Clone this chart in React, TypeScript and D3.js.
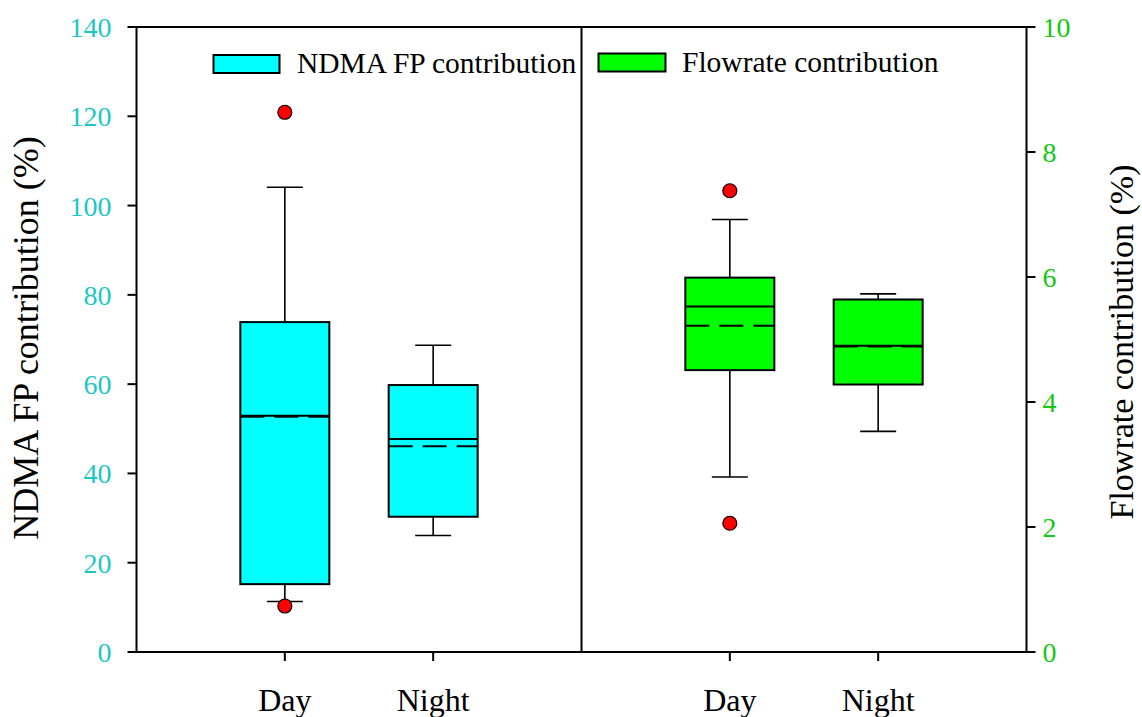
import React from "react";
import * as d3 from "d3";

// Categories on the x axis of each panel
const categories = ["Day", "Night"];

// NDMA FP contribution (%), left panel
const ndmaLowerWhisker = [11.3, 26.1];
const ndmaQ1 = [15.2, 30.3];
const ndmaMedian = [52.9, 47.7];
const ndmaMean = [52.7, 46.1];
const ndmaQ3 = [73.9, 59.8];
const ndmaUpperWhisker = [104.1, 68.7];
const ndmaOutliers = [[120.9, 10.3], []];

// Flowrate contribution (%), right panel
const flowLowerWhisker = [2.8, 3.53];
const flowQ1 = [4.51, 4.28];
const flowMedian = [5.53, 4.9];
const flowMean = [5.22, 4.89];
const flowQ3 = [5.99, 5.64];
const flowUpperWhisker = [6.92, 5.73];
const flowOutliers = [[7.38, 2.06], []];

const leftTicks = [0, 20, 40, 60, 80, 100, 120, 140];
const rightTicks = [0, 2, 4, 6, 8, 10];

const W = 1142;
const H = 717;
const left = 136.5;
const right = 1026.5;
const mid = 581.5;
const top = 27;
const bottom = 652;
const FONT = "'Liberation Serif', 'Times New Roman', serif";

type Stats = {
  lo: number[]; q1: number[]; med: number[]; mean: number[]; q3: number[]; hi: number[]; out: number[][];
};

function Panel({ x0, x1, y, stats, fill }: { x0: number; x1: number; y: d3.ScaleLinear<number, number>; stats: Stats; fill: string }) {
  const x = d3.scalePoint<string>().domain(categories).range([x0, x1]).padding(1);
  const bw = (x1 - x0) * 0.2;
  const cap = 36;
  return (
    <g>
      {categories.map((c, i) => {
        const cx = x(c)!;
        const bx = cx - bw / 2;
        return (
          <g key={c}>
            {/* whiskers */}
            <line x1={cx} x2={cx} y1={y(stats.q3[i])} y2={y(stats.hi[i])} stroke="#000" strokeWidth={1.6} />
            <line x1={cx} x2={cx} y1={y(stats.q1[i])} y2={y(stats.lo[i])} stroke="#000" strokeWidth={1.6} />
            <line x1={cx - cap / 2} x2={cx + cap / 2} y1={y(stats.hi[i])} y2={y(stats.hi[i])} stroke="#000" strokeWidth={1.6} />
            <line x1={cx - cap / 2} x2={cx + cap / 2} y1={y(stats.lo[i])} y2={y(stats.lo[i])} stroke="#000" strokeWidth={1.6} />
            {/* box */}
            <rect x={bx} y={y(stats.q3[i])} width={bw} height={y(stats.q1[i]) - y(stats.q3[i])} fill={fill} stroke="#000" strokeWidth={2} />
            {/* mean (dashed) and median */}
            <line x1={bx} x2={bx + bw} y1={y(stats.mean[i])} y2={y(stats.mean[i])} stroke="#000" strokeWidth={2} strokeDasharray="24 10" />
            <line x1={bx} x2={bx + bw} y1={y(stats.med[i])} y2={y(stats.med[i])} stroke="#000" strokeWidth={2} />
            {/* outliers */}
            {stats.out[i].map((v, j) => (
              <circle key={j} cx={cx} cy={y(v)} r={7} fill="#ff0000" stroke="#000" strokeWidth={1.2} />
            ))}
          </g>
        );
      })}
      {/* category ticks and labels */}
      {categories.map((c) => (
        <g key={c + "t"}>
          <line x1={x(c)!} x2={x(c)!} y1={bottom} y2={bottom + 9} stroke="#000" strokeWidth={2} />
          <text x={x(c)!} y={711} textAnchor="middle" fontFamily={FONT} fontSize={32} fill="#000">{c}</text>
        </g>
      ))}
    </g>
  );
}

export default function App() {
  const yL = d3.scaleLinear().domain([0, 140]).range([bottom, top]);
  const yR = d3.scaleLinear().domain([0, 10]).range([bottom, top]);

  const ndma: Stats = { lo: ndmaLowerWhisker, q1: ndmaQ1, med: ndmaMedian, mean: ndmaMean, q3: ndmaQ3, hi: ndmaUpperWhisker, out: ndmaOutliers };
  const flow: Stats = { lo: flowLowerWhisker, q1: flowQ1, med: flowMedian, mean: flowMean, q3: flowQ3, hi: flowUpperWhisker, out: flowOutliers };

  return (
    <svg width={W} height={H} style={{ position: "absolute", left: 0, top: 0, background: "#fff" }}>
      <rect width={W} height={H} fill="#fff" />
      <Panel x0={left} x1={mid} y={yL} stats={ndma} fill="#00ffff" />
      <Panel x0={mid} x1={right} y={yR} stats={flow} fill="#00ff00" />

      {/* frame and divider */}
      <rect x={left} y={top} width={right - left} height={bottom - top} fill="none" stroke="#000" strokeWidth={2} />
      <line x1={mid} x2={mid} y1={top} y2={bottom} stroke="#000" strokeWidth={2} />

      {/* left axis */}
      {leftTicks.map((t) => (
        <g key={"l" + t}>
          <line x1={left - 9} x2={left} y1={yL(t)} y2={yL(t)} stroke="#000" strokeWidth={2} />
          <text x={left - 25} y={yL(t) + 10} textAnchor="end" fontFamily={FONT} fontSize={28} fill="#1cc6c6">{t}</text>
        </g>
      ))}
      {/* right axis */}
      {rightTicks.map((t) => (
        <g key={"r" + t}>
          <line x1={right} x2={right + 9} y1={yR(t)} y2={yR(t)} stroke="#000" strokeWidth={2} />
          <text x={right + 16} y={yR(t) + 10} textAnchor="start" fontFamily={FONT} fontSize={28} fill="#12c812">{t}</text>
        </g>
      ))}

      {/* axis titles */}
      <text transform={`translate(38,338) rotate(-90)`} textAnchor="middle" fontFamily={FONT} fontSize={36} fill="#000">NDMA FP contribution (%)</text>
      <text transform={`translate(1133,342) rotate(-90)`} textAnchor="middle" fontFamily={FONT} fontSize={34} fill="#000">Flowrate contribution (%)</text>

      {/* legend */}
      <rect x={213.5} y={55} width={66} height={18} fill="#00ffff" stroke="#000" strokeWidth={2} />
      <text x={297} y={73} fontFamily={FONT} fontSize={29.5} fill="#000">NDMA FP contribution</text>
      <rect x={598.5} y={53.5} width={67} height={18} fill="#00ff00" stroke="#000" strokeWidth={2} />
      <text x={682} y={72} fontFamily={FONT} fontSize={29.5} fill="#000">Flowrate contribution</text>
    </svg>
  );
}
